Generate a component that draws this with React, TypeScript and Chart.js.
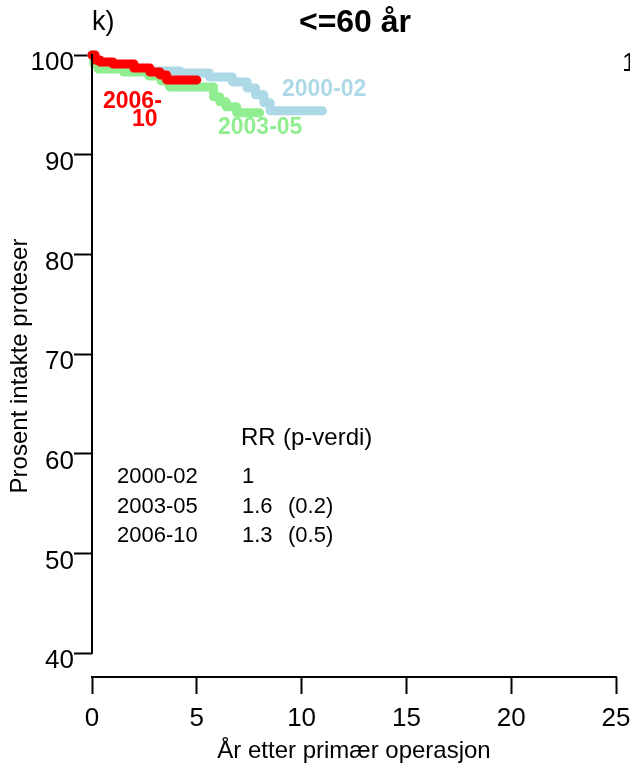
import React, { useEffect, useRef } from "react";
import { Chart, registerables } from "chart.js";

Chart.register(...registerables);

const FONT = "'Liberation Sans', Arial, sans-serif";

// Kaplan-Meier survival (% intact prostheses) per period, [years, percent]
const period2000_02: [number, number][] = [
  [0, 100], [0.1, 99.2], [0.4, 98.7], [1.5, 98.5], [2.5, 98.4], [4.2, 98.2],
  [5.6, 97.8], [6.7, 97.3], [7.4, 96.7], [7.8, 96.0], [8.2, 95.2], [8.5, 94.4], [11.0, 94.4],
];
const period2003_05: [number, number][] = [
  [0, 100], [0.1, 99.1], [0.3, 98.6], [1.5, 98.3], [2.7, 97.9], [3.3, 97.4],
  [3.7, 96.8], [5.8, 95.8], [6.1, 95.3], [6.4, 94.8], [6.9, 94.2], [8.0, 94.2],
];
const period2006_10: [number, number][] = [
  [0, 100], [0.15, 99.5], [0.38, 99.3], [1.0, 99.1], [2.0, 98.7], [2.76, 98.3],
  [3.24, 98.0], [3.56, 97.5], [5.0, 97.5],
];

const yTicks = [40, 50, 60, 70, 80, 90, 100];
const xTicks = [0, 5, 10, 15, 20, 25];

const rrPeriods = ["2000-02", "2003-05", "2006-10"];
const rrValues = ["1", "1.6", "1.3"];
const rrPValues = ["", "(0.2)", "(0.5)"];

const COLORS = { p1: "#ADD8E6", p2: "#90EE90", p3: "#FF0000" };

const toPoints = (arr: [number, number][]) => arr.map(([x, y]) => ({ x, y }));

const decorations = {
  id: "decorations",
  afterDraw(chart: any) {
    const { ctx, scales } = chart;
    const xs = scales.x;
    const ys = scales.y;
    ctx.save();
    // axis lines: y spans 40..100 only, x sits below it
    ctx.strokeStyle = "#000";
    ctx.lineWidth = 2;
    ctx.beginPath();
    const ax = xs.getPixelForValue(0);
    ctx.moveTo(ax, ys.getPixelForValue(100) - 1);
    ctx.lineTo(ax, ys.getPixelForValue(40) + 1);
    ctx.stroke();
    ctx.beginPath();
    const by = chart.chartArea.bottom;
    ctx.moveTo(xs.getPixelForValue(0) - 1, by);
    ctx.lineTo(xs.getPixelForValue(25) + 1, by);
    ctx.stroke();

    ctx.textBaseline = "middle";
    // panel tag and heading
    ctx.fillStyle = "#000";
    ctx.textAlign = "left";
    ctx.font = `27px ${FONT}`;
    ctx.fillText("k)", 92, 23);
    ctx.font = `bold 32px ${FONT}`;
    ctx.textAlign = "center";
    ctx.fillText("<=60 år", 355, 23);
    ctx.textAlign = "left";
    ctx.font = `26px ${FONT}`;
    ctx.fillText("100", 622, 64);

    // curve labels
    ctx.font = `bold 23px ${FONT}`;
    ctx.fillStyle = COLORS.p1;
    ctx.fillText("2000-02", 282, 90);
    ctx.fillStyle = COLORS.p2;
    ctx.fillText("2003-05", 218, 128);
    ctx.fillStyle = COLORS.p3;
    ctx.fillText("2006-", 103, 102);
    ctx.fillText("10", 132, 120);

    // relative risk table
    ctx.fillStyle = "#000";
    ctx.font = `24px ${FONT}`;
    ctx.fillText("RR", 241, 438);
    ctx.fillText("(p-verdi)", 283, 438);
    ctx.font = `22px ${FONT}`;
    const rowY = [477, 507, 536];
    rrPeriods.forEach((p, i) => {
      ctx.fillText(p, 117, rowY[i]);
      ctx.fillText(rrValues[i], 242, rowY[i]);
      if (rrPValues[i]) ctx.fillText(rrPValues[i], 288, rowY[i]);
    });
    ctx.restore();
  },
};

export default function App() {
  const ref = useRef<HTMLCanvasElement | null>(null);

  useEffect(() => {
    if (!ref.current) return;
    const line = (label: string, data: [number, number][], color: string) => ({
      label,
      data: toPoints(data),
      borderColor: color,
      backgroundColor: color,
      borderWidth: 9,
      borderCapStyle: "round" as const,
      borderJoinStyle: "round" as const,
      stepped: "before" as const,
      pointRadius: 0,
      fill: false,
      clip: false as any,
    });
    const chart = new Chart(ref.current, {
      type: "line",
      data: {
        // first dataset is painted last (on top)
        datasets: [
          line("2006-10", period2006_10, COLORS.p3),
          line("2003-05", period2003_05, COLORS.p2),
          line("2000-02", period2000_02, COLORS.p1),
        ],
      },
      options: {
        animation: false,
        responsive: false,
        maintainAspectRatio: false,
        layout: { padding: { top: 55, right: 14, bottom: 0, left: 0 } },
        plugins: { legend: { display: false }, tooltip: { enabled: false } },
        scales: {
          x: {
            type: "linear",
            min: 0,
            max: 25,
            afterBuildTicks: (s: any) => {
              s.ticks = xTicks.map((v) => ({ value: v }));
            },
            afterFit: (s: any) => {
              s.height = 92;
              s.paddingLeft = 0;
              s.paddingRight = 0;
            },
            border: { display: false },
            grid: {
              drawOnChartArea: false,
              tickLength: 17,
              tickColor: "#000",
              tickWidth: 2,
            },
            ticks: {
              color: "#000",
              font: { family: FONT, size: 26 },
              padding: 9,
              maxRotation: 0,
              autoSkip: false,
            },
            title: {
              display: true,
              text: "År etter primær operasjon",
              color: "#000",
              font: { family: FONT, size: 24 },
              padding: { top: 0, bottom: 3 },
            },
          },
          y: {
            type: "linear",
            min: 40 - 24 / 9.967,
            max: 100,
            afterBuildTicks: (s: any) => {
              s.ticks = yTicks.map((v) => ({ value: v }));
            },
            afterFit: (s: any) => {
              s.width = 92;
              s.paddingTop = 0;
              s.paddingBottom = 0;
            },
            border: { display: false },
            grid: {
              drawOnChartArea: false,
              tickLength: 18,
              tickColor: "#000",
              tickWidth: 2,
            },
            ticks: {
              color: "#000",
              font: { family: FONT, size: 26 },
              padding: 0,
              labelOffset: 8,
              autoSkip: false,
            },
            title: {
              display: true,
              text: "Prosent intakte proteser",
              color: "#000",
              font: { family: FONT, size: 24 },
              padding: { top: 6, bottom: 0 },
            },
          },
        },
      },
      plugins: [decorations],
    });
    return () => chart.destroy();
  }, []);

  return (
    <div style={{ position: "absolute", left: 0, top: 0, width: 630, height: 769, background: "#fff" }}>
      <canvas ref={ref} width={630} height={769} style={{ display: "block" }} />
    </div>
  );
}
